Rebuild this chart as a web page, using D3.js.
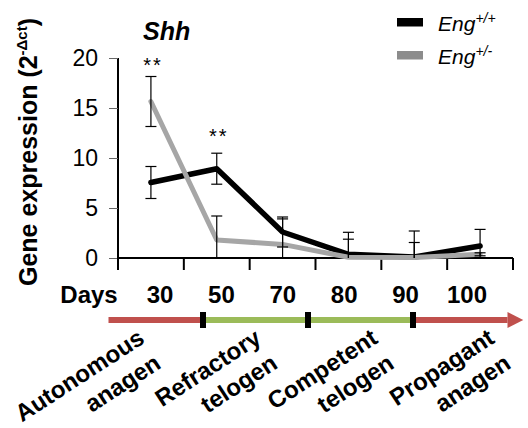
<!DOCTYPE html>
<html>
<head>
  <script src="https://d3js.org/d3.v7.min.js"></script>
  <style>
    body { margin: 0; background: #fff; }
    text { font-family: "Liberation Sans", Arial, sans-serif; }
  </style>
</head>
<body>
  <div id="chart"></div>

  <script>
    // values
    var days = ["30", "50", "70", "80", "90", "100"];
    var engWT = [7.55, 8.93, 2.6, 0.37, 0.1, 1.2];
    var engWTErr = [1.6, 1.55, 1.5, 2.2, 2.6, 1.66];
    var engHet = [15.65, 1.8, 1.36, 0.08, 0.05, 0.37];
    var engHetErr = [2.5, 2.4, 2.55, 1.8, 1.5, 0.15];
    var yTicks = [0, 5, 10, 15, 20];
    var sigDays = ["30", "50"];
    var sigLevels = [18.6, 11.5];
    var phases = [["Autonomous", "anagen"], ["Refractory", "telogen"], ["Competent", "telogen"], ["Propagant", "anagen"]];
    var phaseColors = ["#c0504d", "#9bbb59", "#9bbb59", "#c0504d"];
    var phaseEdges = [0.1, 1, 2, 3, 3.9];   // arrow segments, in phase units
    var arrowTip = 4.05;

    var width = 528, height = 428;

    var svg = d3.select("#chart")
      .append("svg")
      .attr("width", width)
      .attr("height", height);

    var x = d3.scaleBand().domain(days).range([118, 513]).padding(0);
    var y = d3.scaleLinear().domain([0, 20]).range([258, 58]);
    var cx = function(d) { return x(d) + x.bandwidth() / 2; };

    // y axis
    var yAxis = svg.append("g")
      .attr("transform", "translate(118,0)")
      .call(d3.axisLeft(y).tickValues(yTicks).tickSize(9).tickPadding(11));
    yAxis.select(".domain").attr("stroke", "#000").attr("stroke-width", 2)
      .attr("d", "M0," + y(20) + "V" + y(0));
    yAxis.selectAll(".tick line").attr("stroke", "#666");
    yAxis.selectAll(".tick text")
      .attr("font-size", 23)
      .attr("fill", "#000");

    // x axis: baseline with ticks at category borders
    svg.append("line")
      .attr("x1", 118).attr("x2", 513)
      .attr("y1", y(0)).attr("y2", y(0))
      .attr("stroke", "#000").attr("stroke-width", 2);
    var borders = days.map(function(d) { return x(d); }).concat([x.range()[1]]);
    svg.selectAll(".xtick")
      .data(borders)
      .enter().append("line")
      .attr("class", "xtick")
      .attr("x1", function(d) { return d; }).attr("x2", function(d) { return d; })
      .attr("y1", y(0)).attr("y2", y(0) + 12)
      .attr("stroke", "#000").attr("stroke-width", 2);

    var series = [
      { name: "wt", values: engWT, err: engWTErr, color: "#000", width: 5.5 },
      { name: "het", values: engHet, err: engHetErr, color: "#a6a6a6", width: 5 }
    ];

    var line = d3.line()
      .x(function(d) { return cx(d.day); })
      .y(function(d) { return y(d.v); });

    series.forEach(function(s) {
      var pts = days.map(function(d, i) { return { day: d, v: s.values[i] }; });
      svg.append("path")
        .datum(pts)
        .attr("d", line)
        .attr("fill", "none")
        .attr("stroke", s.color)
        .attr("stroke-width", s.width)
        .attr("stroke-linejoin", "round")
        .attr("stroke-linecap", "round");
    });

    // error bars
    series.forEach(function(s) {
      days.forEach(function(d, i) {
        var hi = s.values[i] + s.err[i];
        var lo = Math.max(0, s.values[i] - s.err[i]);
        var g = svg.append("g").attr("stroke", "#000").attr("stroke-width", 1.2);
        g.append("line").attr("x1", cx(d)).attr("x2", cx(d)).attr("y1", y(hi)).attr("y2", y(lo));
        g.append("line").attr("x1", cx(d) - 5.5).attr("x2", cx(d) + 5.5).attr("y1", y(hi)).attr("y2", y(hi));
        if (lo > 0) {
          g.append("line").attr("x1", cx(d) - 5.5).attr("x2", cx(d) + 5.5).attr("y1", y(lo)).attr("y2", y(lo));
        }
      });
    });

    // significance stars
    svg.selectAll(".sig")
      .data(sigDays)
      .enter().append("text")
      .attr("x", function(d) { return cx(d) + 2; })
      .attr("y", function(d, i) { return y(sigLevels[i]); })
      .attr("text-anchor", "middle")
      .attr("font-size", 20)
      .attr("letter-spacing", 2)
      .text("**");

    // title
    svg.append("text")
      .attr("x", 143).attr("y", 40)
      .attr("font-size", 25)
      .attr("font-weight", "bold")
      .attr("font-style", "italic")
      .text("Shh");

    // y label
    var yl = svg.append("text")
      .attr("transform", "translate(37,152) rotate(-90)")
      .attr("text-anchor", "middle")
      .attr("font-size", 25)
      .attr("font-weight", "bold");
    yl.append("tspan").text("Gene expression (2");
    yl.append("tspan").attr("font-size", 15).attr("dy", -10).text("-\u0394ct");
    yl.append("tspan").attr("dy", 10).text(")");

    // legend
    var legend = svg.append("g");
    var legendItems = [
      { sup: "+/+", color: "#000" },
      { sup: "+/-", color: "#8c8c8c" }
    ];
    legendItems.forEach(function(item, i) {
      var gy = 18 + i * 33;
      legend.append("rect")
        .attr("x", 397).attr("y", gy).attr("width", 26).attr("height", 8.5)
        .attr("fill", item.color);
      var t = legend.append("text")
        .attr("x", 438).attr("y", gy + 13)
        .attr("font-size", 21)
        .attr("font-style", "italic");
      t.append("tspan").text("Eng");
      t.append("tspan").attr("font-size", 14).attr("dy", -8).text(item.sup);
    });

    // days row
    var dayX = d3.scalePoint().domain(days).range([160, 467]);
    svg.append("text")
      .attr("x", 89).attr("y", 303)
      .attr("text-anchor", "middle")
      .attr("font-size", 24).attr("font-weight", "bold")
      .text("Days");
    svg.selectAll(".day")
      .data(days)
      .enter().append("text")
      .attr("x", function(d) { return dayX(d); })
      .attr("y", 303)
      .attr("text-anchor", "middle")
      .attr("font-size", 24).attr("font-weight", "bold")
      .text(function(d) { return d; });

    // phase arrow
    var ax = d3.scaleLinear().domain([1, 3]).range([203, 413]);
    var arrowY = 320;
    svg.selectAll(".seg")
      .data(phases)
      .enter().append("line")
      .attr("x1", function(d, i) { return ax(phaseEdges[i]); })
      .attr("x2", function(d, i) { return ax(phaseEdges[i + 1]); })
      .attr("y1", arrowY).attr("y2", arrowY)
      .attr("stroke", function(d, i) { return phaseColors[i]; })
      .attr("stroke-width", 6);
    svg.append("path")
      .attr("d", "M" + ax(phaseEdges[4]) + "," + (arrowY - 8) +
                 "L" + ax(arrowTip) + "," + arrowY +
                 "L" + ax(phaseEdges[4]) + "," + (arrowY + 8) + "Z")
      .attr("fill", phaseColors[3]);
    svg.selectAll(".mark")
      .data(phaseEdges.slice(1, 4))
      .enter().append("rect")
      .attr("x", function(d) { return ax(d) - 3; })
      .attr("y", arrowY - 8)
      .attr("width", 6).attr("height", 16)
      .attr("fill", "#000");

    // phase labels
    var phaseX = d3.scalePoint().domain(d3.range(phases.length)).range([146, 496]);
    var pl = svg.selectAll(".phase")
      .data(phases)
      .enter().append("text")
      .attr("transform", function(d, i) { return "translate(" + phaseX(i) + ",342) rotate(-33)"; })
      .attr("text-anchor", "end")
      .attr("font-size", 24)
      .attr("font-weight", "bold");
    pl.append("tspan").attr("x", 0).attr("y", 0).text(function(d) { return d[0]; });
    pl.append("tspan").attr("x", 0).attr("y", 30).text(function(d) { return d[1]; });
  </script>
</body>
</html>
